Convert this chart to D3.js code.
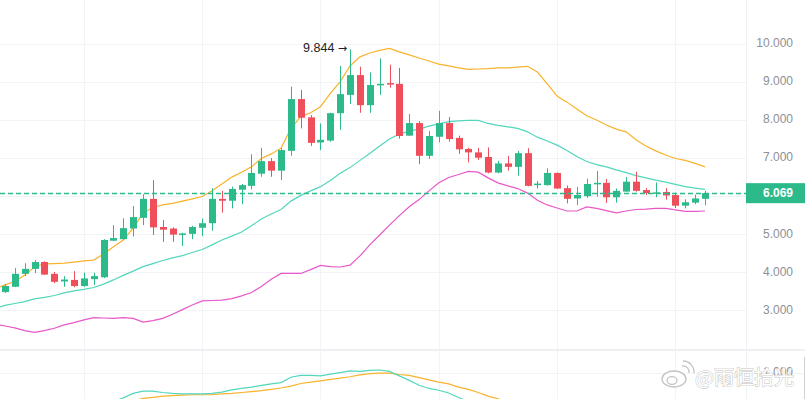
<!DOCTYPE html>
<html>
<head>
<meta charset="utf-8">
<script src="https://d3js.org/d3.v7.min.js"></script>
<style>
body { margin: 0; background: #fff; }
#chart { display: block; font-family: 'Liberation Sans', Arial, sans-serif; }
</style>
</head>
<body>
<svg id="chart"></svg>
<script>
// candles, oldest first
const opens = [3.47,3.61,3.95,4.08,4.26,3.95,3.75,3.79,3.63,3.81, 3.86,4.82,4.86,5.14,5.42,5.92,5.18,5.14,4.98,5.00,
  5.16,5.28,5.92,5.87,6.16,6.26,6.58,6.91,6.66,7.18, 8.54,8.06,7.40,7.45,8.17,8.65,9.17,8.38,8.90,8.96,
  8.94,7.58,7.91,7.05,7.55,7.91,7.52,7.23,7.14,7.02, 6.61,6.85,6.76,7.12,6.28,6.28,6.60,6.20,5.93,5.99,
  6.30,6.34,5.96,6.11,6.37,6.15,6.05,6.10,6.02,5.74, 5.82,5.92];
const highs = [3.68,4.10,4.23,4.31,4.28,4.00,3.89,4.02,3.98,3.98, 4.86,5.23,5.41,5.73,6.04,6.41,5.36,5.17,5.03,5.21,
  5.40,6.20,6.13,6.24,6.31,7.09,7.26,6.99,7.25,8.87, 8.78,8.12,7.90,8.18,9.41,9.844,9.39,9.24,9.61,9.44,
  9.36,8.15,7.96,7.70,8.23,8.07,7.58,7.26,7.26,7.27, 6.92,7.05,7.18,7.25,6.39,6.72,6.61,6.27,6.23,6.45,
  6.65,6.44,6.19,6.49,6.63,6.20,6.35,6.20,6.08,5.91, 6.03,6.13];
const lows = [3.45,3.60,3.89,3.97,3.92,3.71,3.61,3.60,3.61,3.66, 3.84,4.81,4.85,4.93,5.23,4.97,4.79,4.79,4.68,4.86,
  4.94,5.08,5.56,5.67,5.78,6.17,6.50,6.50,6.41,7.05, 7.77,7.31,7.20,7.42,7.73,8.41,8.18,8.18,8.65,8.84,
  7.50,7.57,6.83,6.97,7.40,7.42,7.10,6.88,6.94,6.59, 6.59,6.66,6.53,6.25,6.19,6.27,6.18,5.80,5.76,5.94,
  5.98,5.81,5.82,6.10,6.11,6.02,5.96,5.90,5.68,5.67, 5.78,5.75];
const closes = [3.63,3.95,4.08,4.26,3.93,3.74,3.80,3.63,3.83,3.89, 4.84,4.89,5.15,5.44,5.92,5.17,5.11,4.98,5.01,5.18,
  5.28,5.92,5.87,6.18,6.28,6.60,6.91,6.66,7.20,8.54, 8.05,7.39,7.47,8.17,8.67,9.17,8.38,8.91,8.94,8.93,
  7.57,7.91,7.05,7.57,7.91,7.49,7.22,7.14,7.00,6.61, 6.85,6.76,7.12,6.26,6.32,6.60,6.19,5.92,6.02,6.31,
  6.34,5.96,6.13,6.37,6.13,6.07,6.09,6.01,5.74,5.83, 5.93,6.069];

// band lines, first value is the candle before the first one shown
const upperBand = [3.56, 3.66,3.75,3.92,4.13,4.21,4.22,4.23,4.26,4.29,4.31, 4.47,4.66,4.84,5.15,5.54,5.70,5.76,5.80,5.86,5.92,
  5.98,6.13,6.31,6.49,6.62,6.76,6.98,7.10,7.25,7.77, 8.08,8.18,8.34,8.69,9.00,9.41,9.65,9.75,9.82,9.87,
  9.78,9.70,9.62,9.54,9.46,9.41,9.36,9.32,9.33,9.34, 9.36,9.36,9.38,9.40,9.25,8.94,8.62,8.46,8.28,8.10,
  7.99,7.86,7.75,7.68,7.47,7.31,7.18,7.07,6.98,6.93, 6.85,6.76];
const midBand = [3.04, 3.12,3.17,3.22,3.29,3.33,3.38,3.45,3.50,3.54,3.59, 3.68,3.79,3.91,4.02,4.14,4.22,4.30,4.37,4.43,4.51,
  4.59,4.71,4.84,4.94,5.05,5.21,5.39,5.52,5.64,5.86, 6.01,6.13,6.24,6.40,6.59,6.74,6.93,7.11,7.31,7.49,
  7.62,7.70,7.75,7.83,7.89,7.95,7.97,7.98,7.98,7.90, 7.85,7.81,7.77,7.68,7.54,7.44,7.33,7.19,7.03,6.90,
  6.82,6.76,6.68,6.61,6.53,6.47,6.41,6.36,6.30,6.24, 6.20,6.17];
const lowerBand = [2.63, 2.58,2.53,2.46,2.41,2.46,2.52,2.61,2.67,2.74,2.80, 2.79,2.78,2.80,2.78,2.68,2.72,2.78,2.89,3.01,3.13,
  3.24,3.25,3.26,3.30,3.37,3.46,3.62,3.81,3.96,3.96, 3.96,4.06,4.17,4.14,4.13,4.18,4.42,4.71,4.97,5.23,
  5.48,5.71,5.90,6.13,6.34,6.48,6.56,6.64,6.62,6.47, 6.34,6.26,6.19,6.07,5.88,5.76,5.68,5.60,5.60,5.71,
  5.67,5.61,5.55,5.60,5.64,5.65,5.67,5.67,5.63,5.59, 5.59,5.60];

// lower pane, only the visible stretch
const subFastStart = 11;
const subFast = [0.36,0.44,0.54,0.59,0.59,0.56,0.54,0.53,0.53,0.53, 0.54,0.57,0.62,0.65,0.68,0.72,0.75,0.78,0.90,0.94,
  0.94,0.93,0.97,1.00,1.04,1.03,1.05,1.06,1.03,0.93, 0.83,0.72,0.65,0.61,0.55,0.45,0.36];
const subSlowStart = 13;
const subSlow = [0.37,0.43,0.45,0.48,0.49,0.50,0.51,0.51,0.51,0.53, 0.54,0.56,0.58,0.60,0.63,0.66,0.70,0.76,0.79,0.82,
  0.85,0.88,0.91,0.95,0.98,0.99,0.99,0.96,0.94,0.89, 0.84,0.79,0.75,0.68,0.63,0.56,0.48,0.42,0.35];

const priceTicks = [3, 4, 5, 6, 7, 8, 9, 10];
const subTicks = [1];
const gridCandles = [8, 20, 32, 44, 56, 68];
const lastPrice = 6.069;
const watermark = "@雨恒拾光";

const width = 805, height = 399;
const axisX = 746, paneBottom = 350;
const green = "#2dba8b", red = "#ef4e5b";
const fmt = d3.format(".3f");

const svg = d3.select("#chart").attr("width", width).attr("height", height);

const x = d3.scaleLinear().domain([0, closes.length - 1]).range([5, 705]);
const y = d3.scaleLinear().domain([10, 3]).range([43.5, 310]);
const ySub = d3.scaleLinear().domain([1, 0]).range([372.7, 417.7]);

const defs = svg.append("defs");
defs.append("clipPath").attr("id", "mainClip").append("rect")
  .attr("x", 0).attr("y", 0).attr("width", axisX).attr("height", paneBottom);
defs.append("clipPath").attr("id", "subClip").append("rect")
  .attr("x", 0).attr("y", paneBottom).attr("width", axisX).attr("height", height - paneBottom);

// grid
const grid = svg.append("g").attr("stroke", "#f2f3f5").attr("stroke-width", 1);
grid.selectAll(".h").data(priceTicks).join("line")
  .attr("x1", 0).attr("x2", axisX).attr("y1", d => Math.round(y(d)) + 0.5).attr("y2", d => Math.round(y(d)) + 0.5);
grid.selectAll(".v").data(gridCandles).join("line")
  .attr("x1", d => Math.round(x(d)) + 0.5).attr("x2", d => Math.round(x(d)) + 0.5).attr("y1", 0).attr("y2", height);
grid.selectAll(".s").data(subTicks).join("line")
  .attr("x1", 0).attr("x2", width).attr("y1", d => Math.round(ySub(d)) + 0.5).attr("y2", d => Math.round(ySub(d)) + 0.5);
svg.append("line").attr("x1", 0).attr("x2", width).attr("y1", paneBottom).attr("y2", paneBottom)
  .attr("stroke", "#eeeff2").attr("stroke-width", 2);
svg.append("line").attr("x1", axisX + 0.5).attr("x2", axisX + 0.5).attr("y1", 0).attr("y2", height)
  .attr("stroke", "#f0f1f3");
svg.append("line").attr("x1", 804.5).attr("x2", 804.5).attr("y1", 357).attr("y2", height)
  .attr("stroke", "#cfd1d4");

// bands
const main = svg.append("g").attr("clip-path", "url(#mainClip)");
const bandLine = d3.line().x((d, i) => x(i - 1)).y(d => y(d));
[[upperBand, "#f9b22c"], [midBand, "#52d6bd"], [lowerBand, "#e858c9"]].forEach(([vals, col]) => {
  main.append("path").datum(vals).attr("d", bandLine)
    .attr("fill", "none").attr("stroke", col).attr("stroke-width", 1.2);
});

// candles
const candles = main.selectAll(".c").data(closes.map((c, i) => i)).join("g")
  .attr("fill", i => closes[i] >= opens[i] ? green : red)
  .attr("stroke", i => closes[i] >= opens[i] ? green : red);
candles.append("line")
  .attr("x1", i => Math.round(x(i)) + 0.5).attr("x2", i => Math.round(x(i)) + 0.5)
  .attr("y1", i => y(highs[i])).attr("y2", i => y(lows[i])).attr("stroke-width", 1);
candles.append("rect")
  .attr("x", i => Math.round(x(i)) - 3).attr("width", 7)
  .attr("y", i => y(Math.max(opens[i], closes[i])))
  .attr("height", i => Math.max(1.5, Math.abs(y(opens[i]) - y(closes[i]))))
  .attr("stroke", "none");

// peak label
const peak = d3.maxIndex(highs);
const peakText = svg.append("text").attr("x", x(peak) - 3).attr("y", y(highs[peak]) - 0.5)
  .attr("text-anchor", "end").attr("dominant-baseline", "middle")
  .attr("font-size", 12.5).attr("fill", "#1e2026");
peakText.append("tspan").text(fmt(highs[peak]) + " ");
peakText.append("tspan").attr("font-family", "'DejaVu Sans', sans-serif").attr("font-size", 11).text("→");

// last price
svg.append("line").attr("x1", 0).attr("x2", axisX + 6)
  .attr("y1", Math.round(y(lastPrice)) + 0.5).attr("y2", Math.round(y(lastPrice)) + 0.5)
  .attr("stroke", green).attr("stroke-width", 1.3).attr("stroke-dasharray", "5,3");
svg.append("rect").attr("x", axisX).attr("y", y(lastPrice) - 10).attr("width", width - axisX).attr("height", 20)
  .attr("fill", green);
svg.append("text").attr("x", 793).attr("y", y(lastPrice) + 0.5)
  .attr("text-anchor", "end").attr("dominant-baseline", "middle")
  .attr("font-size", 12).attr("font-weight", "bold").attr("fill", "#fff").text(fmt(lastPrice));

// axis labels
svg.append("g").selectAll("text").data(priceTicks.filter(t => Math.abs(y(t) - y(lastPrice)) > 14)).join("text")
  .attr("x", 793).attr("y", d => y(d) + 0.5)
  .attr("text-anchor", "end").attr("dominant-baseline", "middle")
  .attr("font-size", 12).attr("fill", "#8d9096").text(d => fmt(d));

// lower pane
const sub = svg.append("g").attr("clip-path", "url(#subClip)");
sub.append("path").datum(subSlow)
  .attr("d", d3.line().x((d, i) => x(i + subSlowStart)).y(d => ySub(d)))
  .attr("fill", "none").attr("stroke", "#f9b22c").attr("stroke-width", 1.2);
sub.append("path").datum(subFast)
  .attr("d", d3.line().x((d, i) => x(i + subFastStart)).y(d => ySub(d)))
  .attr("fill", "none").attr("stroke", "#52d6bd").attr("stroke-width", 1.2);
svg.append("g").selectAll("text").data(subTicks).join("text")
  .attr("x", 793).attr("y", d => ySub(d) + 0.5)
  .attr("text-anchor", "end").attr("dominant-baseline", "middle")
  .attr("font-size", 12).attr("fill", "#8d9096").text(d => fmt(d));

// watermark
const wm = svg.append("g").attr("fill", "#fff").attr("stroke", "#c4c4c4").attr("stroke-width", 1.3);
wm.append("ellipse").attr("cx", 674).attr("cy", 379).attr("rx", 12).attr("ry", 8);
wm.append("ellipse").attr("cx", 672).attr("cy", 380.5).attr("rx", 5).attr("ry", 3.8);
wm.append("path").attr("fill", "none").attr("d", "M682,366 a6,6 0 0 1 7,7");
wm.append("path").attr("fill", "none").attr("d", "M683,361 a11,11 0 0 1 11,12");
wm.append("text").attr("x", 695).attr("y", 385)
  .attr("font-family", "'Noto Sans CJK SC', sans-serif").attr("font-size", 20)
  .attr("stroke-width", 1).attr("paint-order", "stroke").text(watermark);
</script>
</body>
</html>
